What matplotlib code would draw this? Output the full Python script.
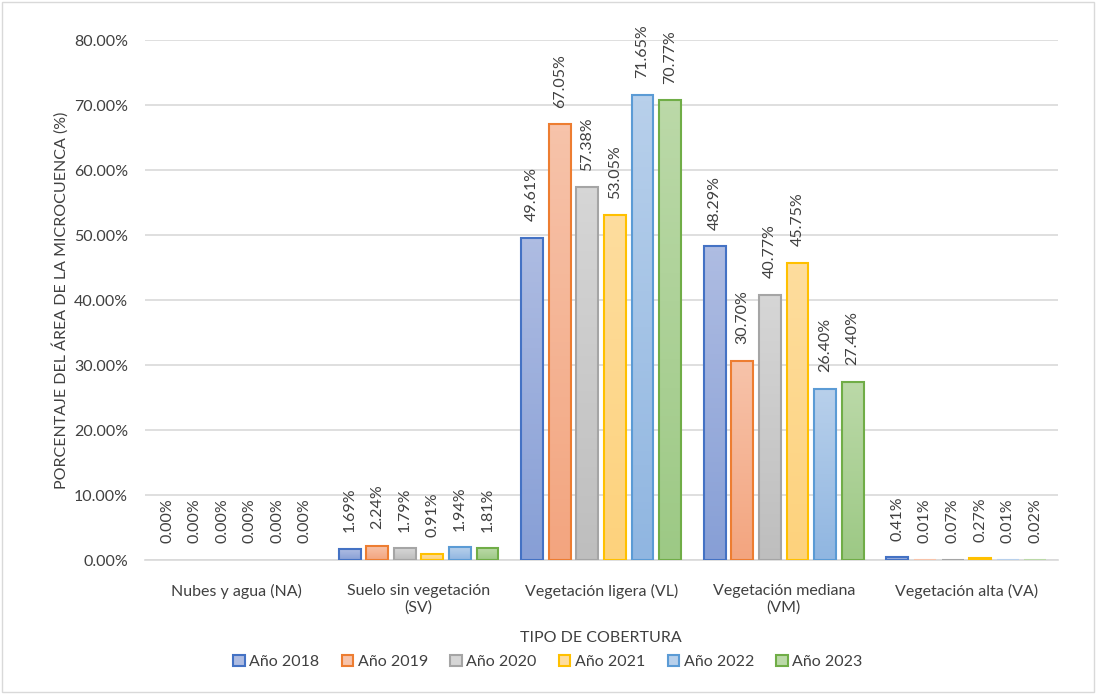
import numpy as np
import matplotlib
matplotlib.use('Agg')
import matplotlib.pyplot as plt
from matplotlib.colors import LinearSegmentedColormap
from matplotlib.patches import Rectangle

plt.rcParams['font.family'] = ['Lato', 'DejaVu Sans']

categorias = ['Nubes y agua (NA)', 'Suelo sin vegetación\n(SV)', 'Vegetación ligera (VL)',
              'Vegetación mediana\n(VM)', 'Vegetación alta (VA)']
anios = ['Año 2018', 'Año 2019', 'Año 2020', 'Año 2021', 'Año 2022', 'Año 2023']

v2018 = [0.00, 1.69, 49.61, 48.29, 0.41]
v2019 = [0.00, 2.24, 67.05, 30.70, 0.01]
v2020 = [0.00, 1.79, 57.38, 40.77, 0.07]
v2021 = [0.00, 0.91, 53.05, 45.75, 0.27]
v2022 = [0.00, 1.94, 71.65, 26.40, 0.01]
v2023 = [0.00, 1.81, 70.77, 27.40, 0.02]
series = [v2018, v2019, v2020, v2021, v2022, v2023]

bordes = ['#4472C4', '#ED7D31', '#A5A5A5', '#FFC000', '#5B9BD5', '#70AD47']
arriba = ['#AEBCE2', '#F7C3AA', '#D6D6D6', '#FEDD9E', '#B8D0EB', '#BBD9A8']
abajo = ['#879FD6', '#F3A57F', '#BEBEBE', '#FDD27C', '#90B6E1', '#9DC985']

fig = plt.figure(figsize=(10.96, 6.94), dpi=100)
ax = fig.add_axes([0.132, 0.193, 0.833, 0.749])

x = np.arange(len(categorias))
ancho = 0.12
paso = 0.151

for i, vals in enumerate(series):
    pos = x + (i - 2.5) * paso
    bars = ax.bar(pos, vals, width=ancho, facecolor='none', edgecolor=bordes[i],
                  linewidth=1.5, label=anios[i], zorder=3)
    cmap = LinearSegmentedColormap.from_list('g%d' % i, [abajo[i], arriba[i]])
    for b, v in zip(bars, vals):
        if v > 0:
            grad = np.linspace(0, 1, 64).reshape(-1, 1)
            im = ax.imshow(grad, cmap=cmap, aspect='auto', origin='lower',
                           extent=[b.get_x(), b.get_x() + b.get_width(), 0, v],
                           zorder=2)
            im.set_clip_path(b)
        else:
            b.set_linewidth(0)
        if v < 0.05:
            b.set_edgecolor(arriba[i])
        ax.annotate('%.2f%%' % v, (b.get_x() + b.get_width() / 2, v),
                    xytext=(0, 12), textcoords='offset points', rotation=90,
                    ha='center', va='bottom', fontsize=11.5, color='#404040')

ax.set_xlim(-0.5, 4.5)
ax.set_ylim(0, 80)
ax.set_yticks(np.arange(0, 81, 10))
ax.set_yticklabels(['%.2f%%' % t for t in np.arange(0, 81, 10)])
ax.set_xticks(x)
ax.set_xticklabels(categorias)
ax.tick_params(length=0, labelsize=11.5, colors='#404040')
ax.tick_params(axis='x', pad=17)
ax.tick_params(axis='y', pad=12)
ax.grid(axis='y', color='#D9D9D9', linewidth=1.2, zorder=0)
for s in ['top', 'right', 'left']:
    ax.spines[s].set_visible(False)
ax.spines['bottom'].set_color('#D9D9D9')
ax.spines['bottom'].set_linewidth(1.2)

ax.set_xlabel('TIPO DE COBERTURA', fontsize=11.5, color='#404040', labelpad=12)
ax.set_ylabel('PORCENTAJE DEL ÁREA DE LA MICROCUENCA (%)', fontsize=11.5,
              color='#404040', labelpad=4)

h, l = ax.get_legend_handles_labels()
leg = fig.legend(h, l, loc='center', bbox_to_anchor=(0.5, 0.046), ncol=6, frameon=False,
                 fontsize=11.5, handlelength=0.7, handleheight=0.7, handletextpad=0.3,
                 columnspacing=1.4)
for t in leg.get_texts():
    t.set_color('#404040')
for hh, c, cf in zip(leg.legend_handles, bordes, arriba):
    hh.set_facecolor(cf)
    hh.set_edgecolor(c)
    hh.set_linewidth(1.5)

fig.patches.append(Rectangle((0.002, 0.003), 0.996, 0.994, transform=fig.transFigure,
                             fill=False, edgecolor='#D9D9D9', linewidth=1))

fig.savefig('out.png', dpi=100)
